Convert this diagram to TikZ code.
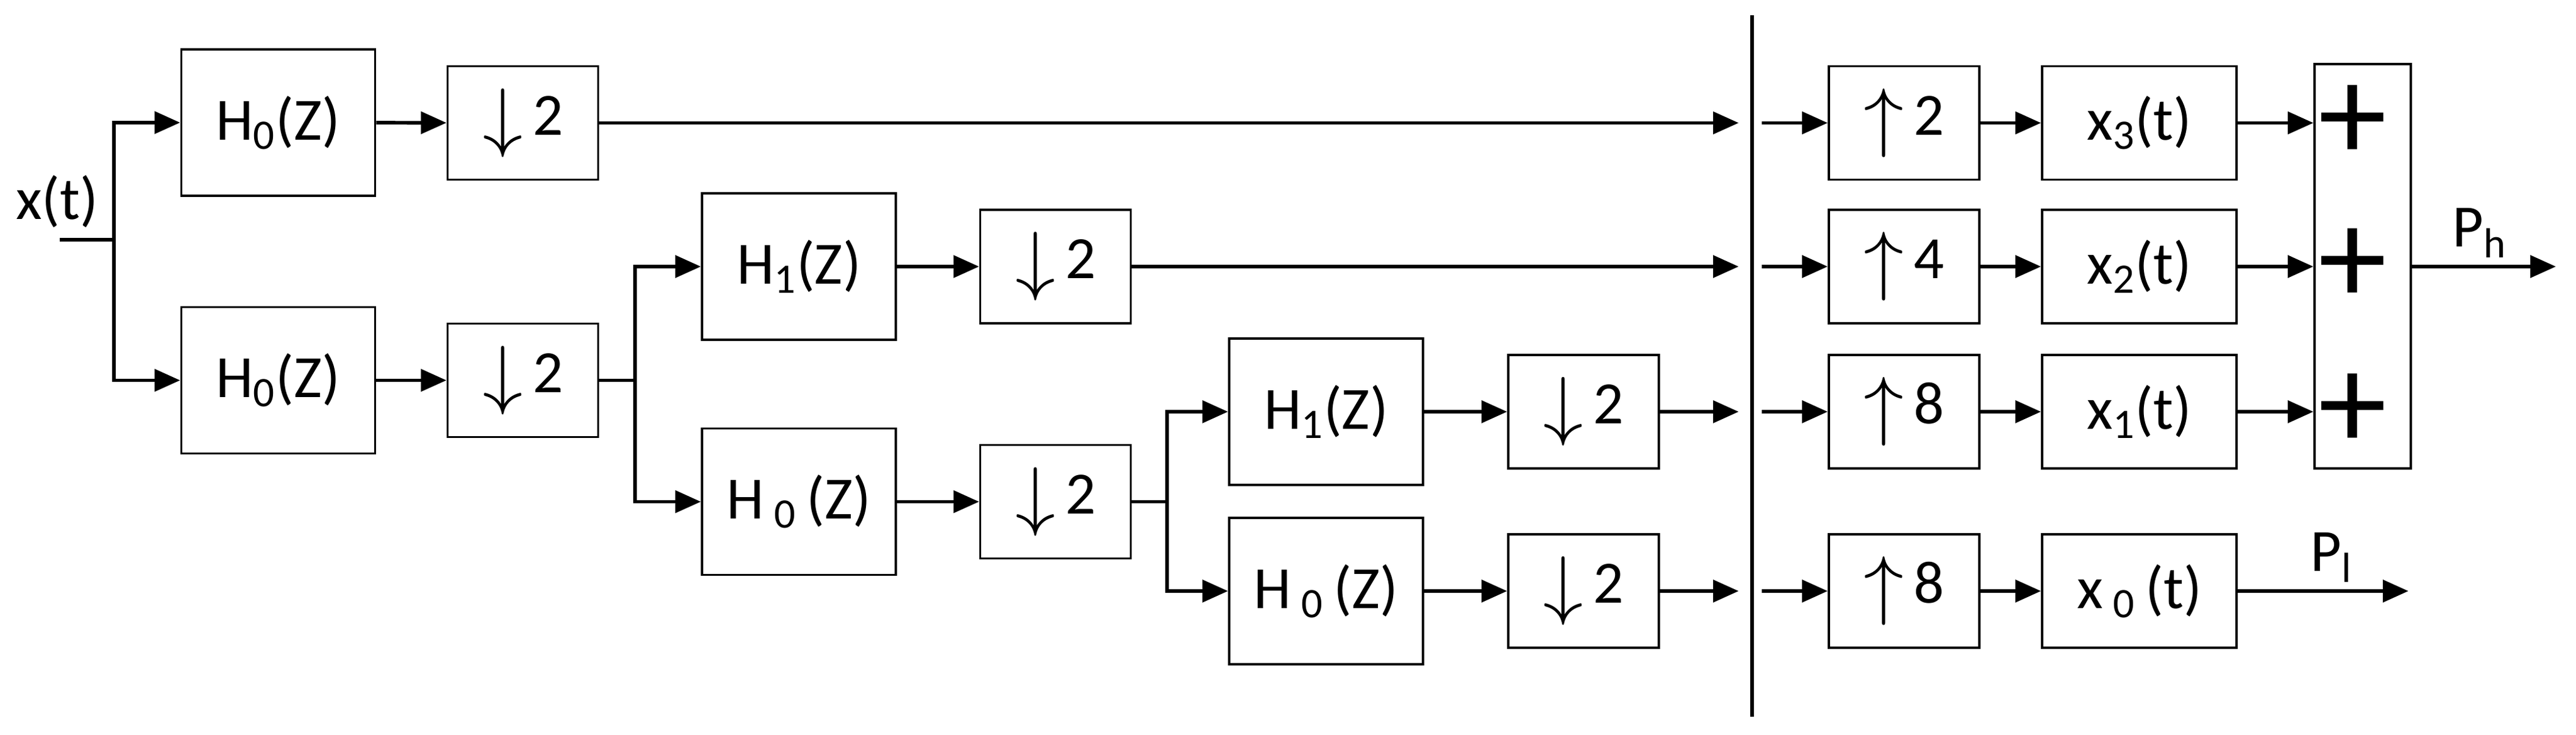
\documentclass[tikz,border=0pt]{standalone}
\usepackage{fontspec}
\setmainfont{Carlito}
\usetikzlibrary{arrows.meta}
\newcommand{\dn}{\raisebox{-0.12em}{\scalebox{1.5}[1.45]{$\downarrow$}}\,}
\newcommand{\upa}{\raisebox{-0.12em}{\scalebox{1.5}[1.45]{$\uparrow$}}\,}
\begin{document}
\begin{tikzpicture}[
  every node/.style={font=\fontsize{28}{32}\selectfont},
  box/.style={draw, line width=1.1pt, minimum height=2.4cm, minimum width=3.18cm, inner sep=0pt},
  sbox/.style={draw, line width=1.1pt, minimum height=1.86cm, minimum width=2.47cm, inner sep=0pt},
  ar/.style={line width=1.7pt, -{Triangle[length=0.42cm,width=0.36cm]}},
  ln/.style={line width=1.7pt}
]
\useasboundingbox (0,0) rectangle (42.27,-12.04);
% analysis
\node[box] (H0a) at (4.565,-2.01) {H\textsubscript{0}(Z)};
\node[sbox] (D2a) at (8.58,-2.015) {\dn2};
\node[box] (H0b) at (4.565,-6.235) {H\textsubscript{0}(Z)};
\node[sbox] (D2b) at (8.58,-6.235) {\dn2};
\node[box] (H1c) at (13.11,-4.37) {H\textsubscript{1}(Z)};
\node[sbox] (D2c) at (17.32,-4.37) {\dn2};
\node[box] (H0d) at (13.11,-8.225) {H\,\textsubscript{0}\,(Z)};
\node[sbox] (D2d) at (17.32,-8.225) {\dn2};
\node[box] (H1e) at (21.76,-6.75) {H\textsubscript{1}(Z)};
\node[sbox] (D2e) at (25.985,-6.75) {\dn2};
\node[box] (H0f) at (21.76,-9.69) {H\,\textsubscript{0}\,(Z)};
\node[sbox] (D2f) at (25.985,-9.69) {\dn2};
% input
\node (x) at (0.94,-3.3) {x(t)};
\coordinate (in) at (0.98,-3.93);
\coordinate (j1) at (1.87,-3.93);
\coordinate (j2) at (10.42,-6.235);
\coordinate (j3) at (19.15,-8.225);
\draw[ln] (in) -- (j1);
\draw[ar] (j1) |- (H0a.west);
\draw[ar] (j1) |- (H0b.west);
\draw[ar] (H0a) -- (D2a);
\draw[ar] (H0b) -- (D2b);
\draw[ln] (D2b.east) -- (j2);
\draw[ar] (j2) |- (H1c.west);
\draw[ar] (j2) |- (H0d.west);
\draw[ar] (H1c) -- (D2c);
\draw[ar] (H0d) -- (D2d);
\draw[ln] (D2d.east) -- (j3);
\draw[ar] (j3) |- (H1e.west);
\draw[ar] (j3) |- (H0f.west);
\draw[ar] (H1e) -- (D2e);
\draw[ar] (H0f) -- (D2f);
% divider
\coordinate (vt) at (28.75,-0.25);
\coordinate (vb) at (28.75,-11.75);
\draw[line width=1.8pt] (vt) -- (vb);
% synthesis
\node[sbox] (U1) at (31.245,-2.015) {\upa2};
\node[sbox] (U2) at (31.245,-4.37) {\upa4};
\node[sbox] (U3) at (31.245,-6.75) {\upa8};
\node[sbox] (U4) at (31.245,-9.69) {\upa8};
\node[sbox, minimum width=3.19cm] (X3) at (35.105,-2.015) {x\textsubscript{3}(t)};
\node[sbox, minimum width=3.19cm] (X2) at (35.105,-4.37) {x\textsubscript{2}(t)};
\node[sbox, minimum width=3.19cm] (X1) at (35.105,-6.75) {x\textsubscript{1}(t)};
\node[sbox, minimum width=3.19cm] (X0) at (35.105,-9.69) {x\,\textsubscript{0}\,(t)};
\node[draw, line width=1.1pt, minimum width=1.58cm, minimum height=6.63cm, inner sep=0pt] (S) at (38.77,-4.365) {};
\foreach \i/\y in {1/-2.015,2/-4.37,3/-6.75} {
  \coordinate (L\i) at (28.53,\y);
  \coordinate (R\i) at (28.91,\y);
  \node[font=\fontsize{64}{64}\selectfont] (P\i) at (38.6,\y) {+};
}
\coordinate (L4) at (28.53,-9.69);
\coordinate (R4) at (28.91,-9.69);
\draw[ar] (D2a) -- (L1);
\draw[ar] (D2c) -- (L2);
\draw[ar] (D2e) -- (L3);
\draw[ar] (D2f) -- (L4);
\draw[ar] (R1) -- (U1);
\draw[ar] (R2) -- (U2);
\draw[ar] (R3) -- (U3);
\draw[ar] (R4) -- (U4);
\draw[ar] (U1) -- (X3);
\draw[ar] (U2) -- (X2);
\draw[ar] (U3) -- (X1);
\draw[ar] (U4) -- (X0);
\draw[ar] (X3) -- (S.west |- X3);
\draw[ar] (X2) -- (S.west |- X2);
\draw[ar] (X1) -- (S.west |- X1);
\coordinate (ph) at (41.94,-4.37);
\coordinate (pl) at (39.52,-9.69);
\draw[ar] (S.east |- X2) -- node[above, pos=0.47] {P\textsubscript{h}} (ph);
\draw[ar] (X0) -- node[above, pos=0.55] {P\textsubscript{l}} (pl);
\end{tikzpicture}
\end{document}
